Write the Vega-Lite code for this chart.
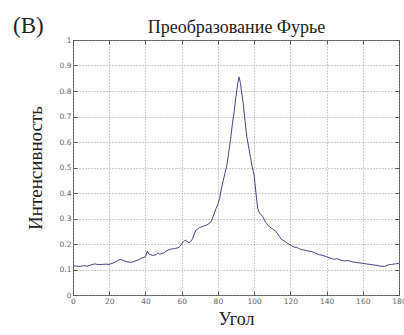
{
  "$schema": "https://vega.github.io/schema/vega-lite/v6.json",
  "autosize": "none",
  "width": 326,
  "height": 255,
  "padding": {"left": 73, "top": 40, "right": 5, "bottom": 40},
  "background": "white",
  "config": {
    "view": {"stroke": "#555555", "strokeWidth": 1},
    "axis": {
      "labelFont": "DejaVu Sans",
      "labelFontSize": 7.5,
      "labelColor": "#666666",
      "domain": false,
      "tickColor": "#555555",
      "tickSize": -4,
      "gridColor": "#9a9a9a",
      "gridDash": [1, 2],
      "gridWidth": 1,
      "gridOpacity": 1,
      "titleFont": "Liberation Serif",
      "titleFontWeight": "normal",
      "titleColor": "#222222"
    }
  },
  "title": {
    "text": "(B)",
    "anchor": "start",
    "frame": "group",
    "font": "Liberation Serif",
    "fontSize": 23,
    "fontWeight": "normal",
    "color": "#222222",
    "dx": -60,
    "dy": 23
  },
  "data": {
    "values": [
      {"angle": 0, "v": 0.115}, {"angle": 2, "v": 0.113}, {"angle": 4, "v": 0.112}, {"angle": 6, "v": 0.115},
      {"angle": 8, "v": 0.113}, {"angle": 10, "v": 0.118}, {"angle": 12, "v": 0.122}, {"angle": 14, "v": 0.119},
      {"angle": 16, "v": 0.12}, {"angle": 18, "v": 0.121}, {"angle": 20, "v": 0.12}, {"angle": 22, "v": 0.125},
      {"angle": 24, "v": 0.132}, {"angle": 26, "v": 0.14}, {"angle": 28, "v": 0.135}, {"angle": 30, "v": 0.13},
      {"angle": 32, "v": 0.128}, {"angle": 34, "v": 0.132}, {"angle": 36, "v": 0.138}, {"angle": 38, "v": 0.145},
      {"angle": 40, "v": 0.15}, {"angle": 41, "v": 0.172}, {"angle": 42, "v": 0.16}, {"angle": 44, "v": 0.155},
      {"angle": 46, "v": 0.158}, {"angle": 47, "v": 0.165}, {"angle": 48, "v": 0.16}, {"angle": 50, "v": 0.165},
      {"angle": 52, "v": 0.175}, {"angle": 54, "v": 0.18}, {"angle": 56, "v": 0.182}, {"angle": 58, "v": 0.185},
      {"angle": 59, "v": 0.19}, {"angle": 61, "v": 0.21}, {"angle": 62, "v": 0.215}, {"angle": 63, "v": 0.21},
      {"angle": 64, "v": 0.205}, {"angle": 65, "v": 0.21}, {"angle": 66, "v": 0.22}, {"angle": 67, "v": 0.24},
      {"angle": 68, "v": 0.255}, {"angle": 70, "v": 0.265}, {"angle": 72, "v": 0.27}, {"angle": 74, "v": 0.275},
      {"angle": 76, "v": 0.285}, {"angle": 77, "v": 0.3}, {"angle": 78, "v": 0.32}, {"angle": 79, "v": 0.34},
      {"angle": 80, "v": 0.355}, {"angle": 81, "v": 0.38}, {"angle": 82, "v": 0.42}, {"angle": 83, "v": 0.45},
      {"angle": 84, "v": 0.48}, {"angle": 85, "v": 0.51}, {"angle": 86, "v": 0.56}, {"angle": 87, "v": 0.61},
      {"angle": 88, "v": 0.67}, {"angle": 89, "v": 0.72}, {"angle": 90, "v": 0.78}, {"angle": 91, "v": 0.83},
      {"angle": 91.7, "v": 0.855}, {"angle": 92.5, "v": 0.83}, {"angle": 93, "v": 0.8}, {"angle": 94, "v": 0.75},
      {"angle": 95, "v": 0.68}, {"angle": 96, "v": 0.62}, {"angle": 97, "v": 0.58}, {"angle": 98, "v": 0.54},
      {"angle": 99, "v": 0.5}, {"angle": 100, "v": 0.47}, {"angle": 101, "v": 0.4}, {"angle": 102, "v": 0.34},
      {"angle": 103, "v": 0.32}, {"angle": 104, "v": 0.315}, {"angle": 105, "v": 0.305}, {"angle": 106, "v": 0.29},
      {"angle": 107, "v": 0.28}, {"angle": 108, "v": 0.27}, {"angle": 110, "v": 0.26}, {"angle": 112, "v": 0.25},
      {"angle": 113, "v": 0.24}, {"angle": 114, "v": 0.23}, {"angle": 115, "v": 0.218}, {"angle": 116, "v": 0.215},
      {"angle": 118, "v": 0.205}, {"angle": 120, "v": 0.196}, {"angle": 122, "v": 0.188}, {"angle": 124, "v": 0.185},
      {"angle": 126, "v": 0.178}, {"angle": 128, "v": 0.176}, {"angle": 130, "v": 0.172}, {"angle": 132, "v": 0.17},
      {"angle": 134, "v": 0.163}, {"angle": 136, "v": 0.158}, {"angle": 138, "v": 0.155}, {"angle": 140, "v": 0.15},
      {"angle": 142, "v": 0.145}, {"angle": 144, "v": 0.14}, {"angle": 146, "v": 0.142}, {"angle": 148, "v": 0.136},
      {"angle": 150, "v": 0.134}, {"angle": 152, "v": 0.135}, {"angle": 154, "v": 0.13}, {"angle": 156, "v": 0.128},
      {"angle": 158, "v": 0.126}, {"angle": 160, "v": 0.124}, {"angle": 162, "v": 0.122}, {"angle": 164, "v": 0.12},
      {"angle": 166, "v": 0.118}, {"angle": 168, "v": 0.116}, {"angle": 170, "v": 0.113}, {"angle": 172, "v": 0.112},
      {"angle": 174, "v": 0.118}, {"angle": 176, "v": 0.12}, {"angle": 178, "v": 0.122}, {"angle": 180, "v": 0.124}
    ]
  },
  "layer": [
    {
      "mark": {"type": "line", "color": "#44448c", "strokeWidth": 1},
      "encoding": {
        "x": {
          "field": "angle", "type": "quantitative",
          "scale": {"domain": [0, 180], "nice": false, "zero": false},
          "axis": {
            "orient": "bottom", "values": [0, 20, 40, 60, 80, 100, 120, 140, 160, 180],
            "grid": true, "title": "Угол", "titleFontSize": 18, "titlePadding": 6,
            "labelPadding": 6, "labelFlush": false
          }
        },
        "y": {
          "field": "v", "type": "quantitative",
          "scale": {"domain": [0, 1], "nice": false},
          "axis": {
            "orient": "left", "values": [0, 0.1, 0.2, 0.3, 0.4, 0.5, 0.6, 0.7, 0.8, 0.9, 1],
            "format": ".1~f", "grid": true, "title": "Интенсивность", "titleFontSize": 19,
            "titlePadding": 14, "labelPadding": 6
          }
        }
      }
    },
    {
      "mark": {"type": "line", "opacity": 0},
      "encoding": {
        "x": {
          "field": "angle", "type": "quantitative",
          "axis": {
            "orient": "top", "values": [0, 20, 40, 60, 80, 100, 120, 140, 160, 180],
            "grid": false, "labels": false, "title": "Преобразование Фурье",
            "titleFontSize": 18, "titlePadding": 3
          }
        },
        "y": {
          "field": "v", "type": "quantitative",
          "axis": {
            "orient": "right", "values": [0, 0.1, 0.2, 0.3, 0.4, 0.5, 0.6, 0.7, 0.8, 0.9, 1],
            "grid": false, "labels": false, "title": null
          }
        }
      }
    }
  ],
  "resolve": {"axis": {"x": "independent", "y": "independent"}}
}
